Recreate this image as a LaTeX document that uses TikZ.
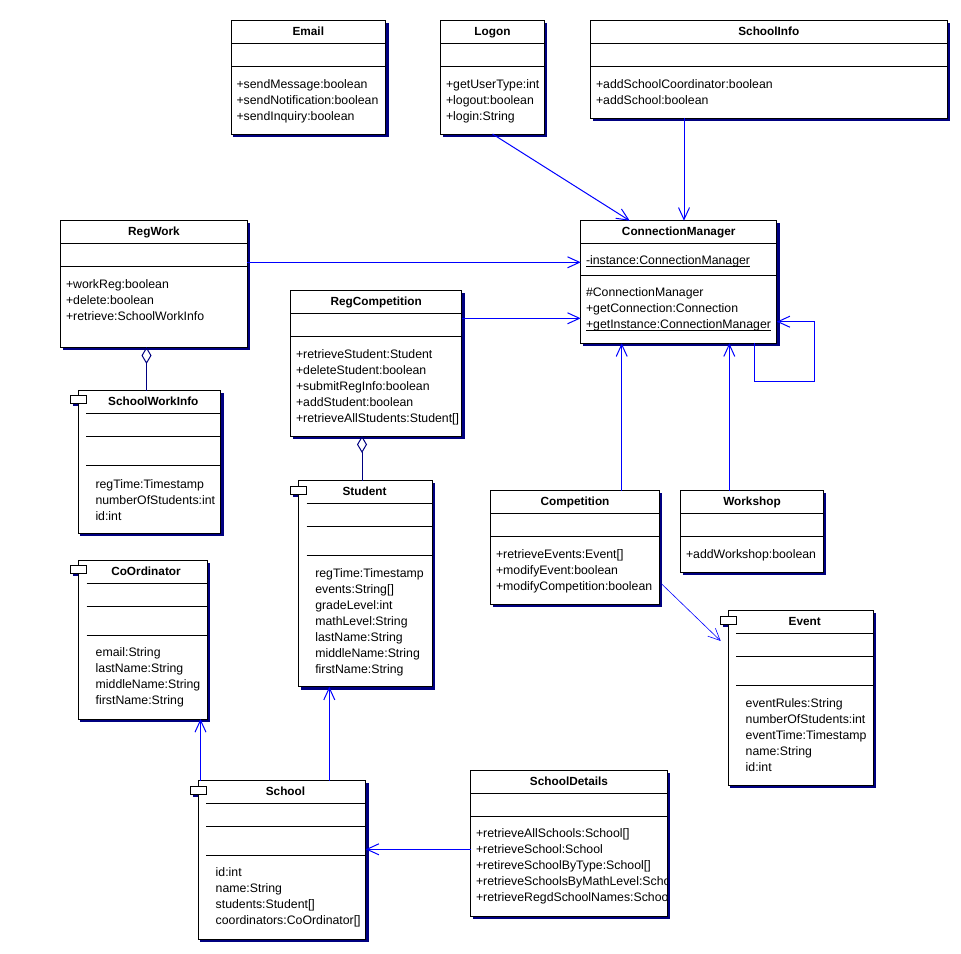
\documentclass[tikz,border=0pt]{standalone}
\usepackage{fontspec}
\setmainfont{Liberation Sans}
\usetikzlibrary{arrows.meta,shadows}
\definecolor{navy}{RGB}{0,0,128}
\definecolor{ublue}{RGB}{0,0,255}
\tikzset{
 ubox/.style={draw=black, fill=white, line width=1pt, anchor=north west, inner sep=0pt, outer sep=0pt,
   copy shadow={shadow xshift=2.5pt, shadow yshift=-2.5pt, fill=navy, draw=navy}},
 iconbox/.style={draw=black, fill=white, line width=1pt, anchor=north west, inner sep=0pt, outer sep=0pt,
   minimum width=16pt, minimum height=8pt},
 txt/.style={anchor=base west, inner sep=0pt, outer sep=0pt, font=\fontsize{12.3}{16}\selectfont},
 ttl/.style={anchor=base, inner sep=0pt, outer sep=0pt, font=\fontsize{11.8}{14}\selectfont\bfseries},
 dep/.style={draw=ublue, line width=1pt, -{Straight Barb[length=12pt,width=11pt]}},
 agg/.style={draw=navy, line width=1pt, {Diamond[open,length=17pt,width=10pt]}-},
 cline/.style={draw=black, line width=1pt}
}
\newcommand{\ubox}[5]{\node[ubox, minimum width={(#4-#2)*1pt}, minimum height={(#5-#3)*1pt}] (#1) at (#2,#3) {};}
\newcommand{\hl}[3]{\draw[cline] (#1,#3) -- (#2,#3);}
\newcommand{\ops}[4]{\foreach \s [count=\i from 0] in {#4} {\node[txt] (#1\i) at (#2,{#3+16*\i}) {\s};}}
\newcommand{\iconshadow}[2]{\fill[navy] (#1+2.5,#2+2.5) rectangle +(16,8);}
\newcommand{\uicon}[3]{\node[iconbox] (#1) at (#2,#3) {};}
\begin{document}
\begin{tikzpicture}[x=1pt,y=-1pt]
\fill[white] (0,0) rectangle (961,953);
\useasboundingbox (0,0) rectangle (961,953);

% Email
\ubox{email}{231}{20.7}{385.7}{134}
\hl{231}{385.7}{43.3}\hl{231}{385.7}{66.3}
\node[ttl] (emailt) at (308.3,35.2) {Email};
\ops{email}{236.5}{88}{+sendMessage:boolean,+sendNotification:boolean,+sendInquiry:boolean}

% Logon
\ubox{logon}{440.7}{20.7}{544.3}{134}
\hl{440.7}{544.3}{43.3}\hl{440.7}{544.3}{66.3}
\node[ttl] (logont) at (492.5,35.2) {Logon};
\ops{logon}{446}{88}{+getUserType:int,+logout:boolean,+login:String}

% SchoolInfo
\ubox{schoolinfo}{590.7}{20.7}{947}{118.3}
\hl{590.7}{947}{43.3}\hl{590.7}{947}{66.3}
\node[ttl] (schoolinfot) at (768.8,35.2) {SchoolInfo};
\ops{schoolinfo}{596}{88}{+addSchoolCoordinator:boolean,+addSchool:boolean}

% RegWork
\ubox{regwork}{60.7}{220.7}{247.3}{347}
\hl{60.7}{247.3}{243.3}\hl{60.7}{247.3}{266.3}
\node[ttl] (regworkt) at (154,235.2) {RegWork};
\ops{regwork}{66}{288}{+workReg:boolean,+delete:boolean,+retrieve:SchoolWorkInfo}

% ConnectionManager
\ubox{cm}{580.7}{220.7}{776.7}{343.3}
\hl{580.7}{776.7}{243.3}\hl{580.7}{776.7}{275.3}
\node[ttl] (cmt) at (678.7,235.2) {ConnectionManager};
\node[txt] (cmattr) at (586,264.3) {-instance:ConnectionManager};
\ops{cm}{586}{296}{\#ConnectionManager,+getConnection:Connection,+getInstance:ConnectionManager}
\draw[line width=0.9pt] ([yshift=-2.6pt]cmattr.base west) -- ([yshift=-2.6pt]cmattr.base east);
\draw[line width=0.9pt] ([yshift=-2.6pt]cm2.base west) -- ([yshift=-2.6pt]cm2.base east);

% RegCompetition
\ubox{regcomp}{290.7}{290.7}{461.7}{436}
\hl{290.7}{461.7}{313.3}\hl{290.7}{461.7}{336.7}
\node[ttl] (regcompt) at (376.2,305.2) {RegCompetition};
\ops{regcomp}{296}{358}{+retrieveStudent:Student,+deleteStudent:boolean,+submitRegInfo:boolean,+addStudent:boolean,+retrieveAllStudents:Student[]}

% SchoolWorkInfo
\iconshadow{70}{395.7}
\ubox{swi}{78.3}{390.7}{220.7}{533.3}
\uicon{swiicon}{70}{395.7}
\hl{86}{220.7}{413.3}\hl{86}{220.7}{436.3}\hl{86}{220.7}{465.3}
\node[ttl] (swit) at (153.3,405.2) {SchoolWorkInfo};
\ops{swi}{95.5}{488}{regTime:Timestamp,numberOfStudents:int,id:int}

% Student
\iconshadow{290.7}{486.7}
\ubox{student}{298.7}{480.7}{432.3}{686.7}
\uicon{studenticon}{290.7}{486.7}
\hl{306.7}{432.3}{503.3}\hl{306.7}{432.3}{526.7}\hl{306.7}{432.3}{555}
\node[ttl] (studentt) at (364.5,495.2) {Student};
\ops{student}{315.3}{577.7}{regTime:Timestamp,events:String[],gradeLevel:int,mathLevel:String,lastName:String,middleName:String,firstName:String}

% CoOrdinator
\iconshadow{70.7}{565.7}
\ubox{coord}{78.3}{560.7}{207.3}{719}
\uicon{coordicon}{70.7}{565.7}
\hl{86.7}{207.3}{583.3}\hl{86.7}{207.3}{606.3}\hl{86.7}{207.3}{635.3}
\node[ttl] (coordt) at (146,575.2) {CoOrdinator};
\ops{coord}{95.7}{656.7}{email:String,lastName:String,middleName:String,firstName:String}

% School
\iconshadow{190.7}{786}
\ubox{school}{198.3}{780.7}{365.7}{939.3}
\uicon{schoolicon}{190.7}{786}
\hl{206}{365.7}{803.3}\hl{206}{365.7}{826.7}\hl{206}{365.7}{855.7}
\node[ttl] (schoolt) at (285.5,795.2) {School};
\ops{school}{215.7}{876.7}{id:int,name:String,students:Student[],coordinators:CoOrdinator[]}

% SchoolDetails
\ubox{sd}{470.7}{770.7}{667.3}{916}
\hl{470.7}{667.3}{793.3}\hl{470.7}{667.3}{816.7}
\node[ttl] (sdt) at (569,785.2) {SchoolDetails};
\begin{scope}
\clip (471.2,817) rectangle (666.8,915.5);
\ops{sd}{476}{837.7}{+retrieveAllSchools:School[],+retrieveSchool:School,+retireveSchoolByType:School[],+retrieveSchoolsByMathLevel:Scho,+retrieveRegdSchoolNames:Schoo}
\end{scope}

% Competition
\ubox{comp}{490.7}{490.7}{659.3}{604}
\hl{490.7}{659.3}{513.3}\hl{490.7}{659.3}{536.3}
\node[ttl] (compt) at (575,505.2) {Competition};
\ops{comp}{496}{558}{+retrieveEvents:Event[],+modifyEvent:boolean,+modifyCompetition:boolean}

% Workshop
\ubox{workshop}{680.7}{490.7}{823.3}{572}
\hl{680.7}{823.3}{513.3}\hl{680.7}{823.3}{536.3}
\node[ttl] (workshopt) at (752,505.2) {Workshop};
\ops{workshop}{686}{558}{+addWorkshop:boolean}

% Event
\iconshadow{720.7}{616.7}
\ubox{event}{728.3}{610.7}{873.3}{785}
\uicon{eventicon}{720.7}{616.7}
\hl{736}{873.3}{633.3}\hl{736}{873.3}{656.7}\hl{736}{873.3}{685.7}
\node[ttl] (eventt) at (804.7,625.2) {Event};
\ops{event}{745.7}{707.3}{eventRules:String,numberOfStudents:int,eventTime:Timestamp,name:String,id:int}

% Connectors
\draw[dep] (logon.south) -- ([xshift=49pt]cm.north west);
\draw[dep] ([xshift=93.3pt]schoolinfo.south west) -- ([xshift=103.3pt]cm.north west);
\draw[dep] ([yshift=-41.6pt]regwork.north east) -- ([yshift=-41.6pt]cm.north west);
\draw[dep] ([yshift=-27.6pt]regcomp.north east) -- ([yshift=-97.6pt]cm.north west);
\draw[dep] ([xshift=131pt]comp.north west) -- ([xshift=41pt]cm.south west);
\draw[dep] ([xshift=48.6pt]workshop.north west) -- ([xshift=148.6pt]cm.south west);
\coordinate (loopc) at (814.3,381.7);
\draw[dep] ([xshift=173.6pt]cm.south west) |- (loopc) |- ([yshift=-101pt]cm.north east);
\draw[dep, line width=0.6pt] ([xshift=2.4pt,yshift=-93.3pt]comp.north east) -- ([xshift=-7.6pt,yshift=-30.3pt]event.north west);
\draw[dep] ([yshift=-78.6pt]sd.north west) -- ([yshift=-68.6pt]school.north east);
\draw[dep] ([xshift=131pt]school.north west) -- ([xshift=30.6pt]student.south west);
\draw[dep] ([xshift=2.2pt]school.north west) -- ([xshift=122.2pt]coord.south west);
\draw[agg] ([xshift=85.8pt]regwork.south west) -- ([xshift=68.2pt]swi.north west);
\draw[agg] ([xshift=71.3pt]regcomp.south west) -- ([xshift=63.3pt]student.north west);
\end{tikzpicture}
\end{document}
